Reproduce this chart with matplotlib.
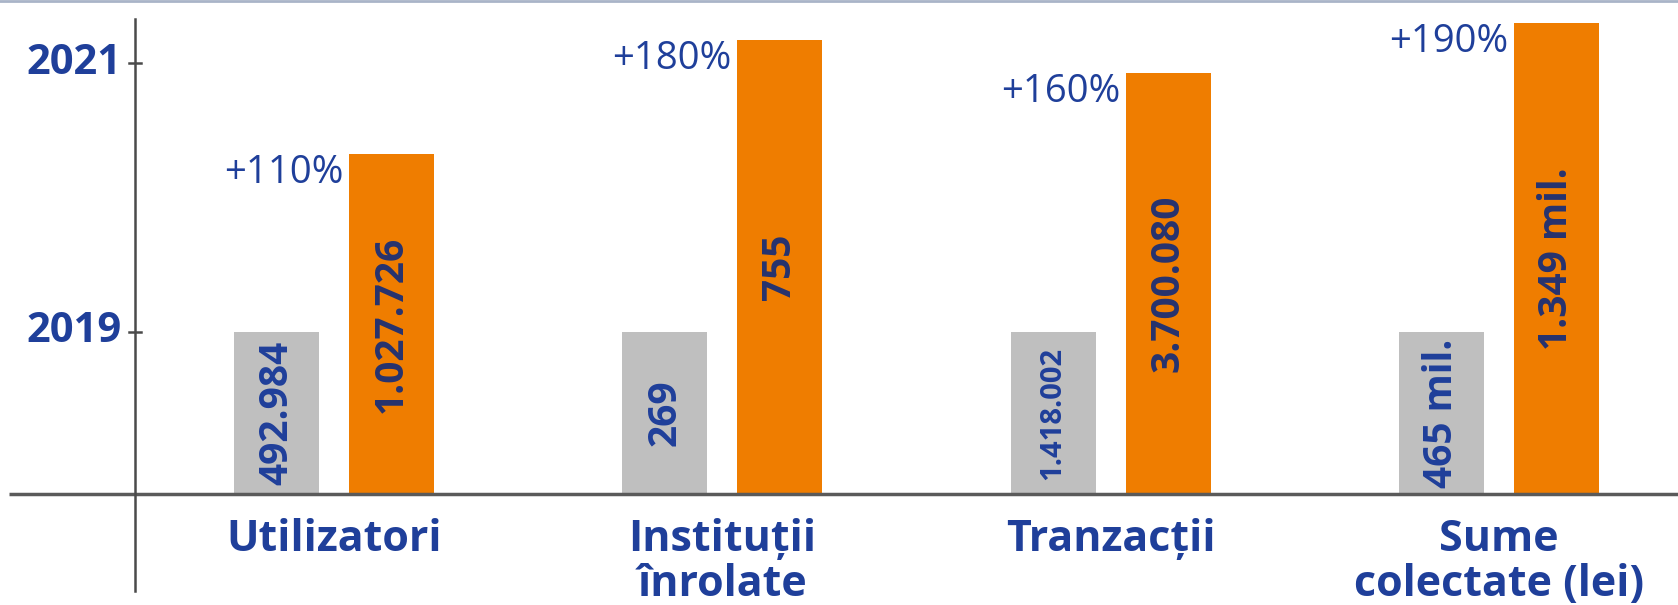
import matplotlib.pyplot as plt
from matplotlib.lines import Line2D

# data (bar heights are indexed, 2019 = 1)
categories = ['Utilizatori', 'Instituții\nînrolate', 'Tranzacții', 'Sume\ncolectate (lei)']
growth_pct = [110, 180, 160, 190]
level_2019 = [1.0, 1.0, 1.0, 1.0]
level_2021 = [2.10, 2.80, 2.60, 2.91]
labels_2019 = ['492.984', '269', '1.418.002', '465 mil.']
labels_2021 = ['1.027.726', '755', '3.700.080', '1.349 mil.']
year_ticks = [1.0, 2.66]
year_labels = ['2019', '2021']

# styles
size_2019 = [28, 28, 21, 28]
GREY = '#bfbfbf'
ORANGE = '#ef7d00'
BLUE = '#1f3f9a'
NAVY = '#26336f'

plt.rcParams['font.family'] = ['Open Sans', 'DejaVu Sans']

fig = plt.figure(figsize=(16.78, 6.05), dpi=100)
ax = fig.add_axes([0, 0, 1, 1])
ax.set_xlim(-0.860, 3.461)
ax.set_ylim(-0.685, 3.049)
ax.axis('off')

w = 0.219
off = 0.148
x = list(range(len(categories)))
x19 = [i - off for i in x]
x21 = [i + off for i in x]

ax.bar(x19, level_2019, width=w, color=GREY, zorder=2)
ax.bar(x21, level_2021, width=w, color=ORANGE, zorder=2)

# axes lines
ax.plot([-0.837, 3.461], [0, 0], color='#5a5a5a', lw=2.5, zorder=3, solid_capstyle='butt')
ax.plot([-0.5125, -0.5125], [-0.599, 2.932], color='#4a4a4a', lw=1.8, zorder=3)
for t, lab in zip(year_ticks, year_labels):
    ax.plot([-0.527, -0.498], [t, t], color='#4a4a4a', lw=1.8, zorder=3)
    ax.text(-0.546, t, lab, ha='right', va='center', fontsize=30,
            fontweight='bold', color=BLUE)

for i in x:
    ax.text(x19[i], level_2019[i] / 2, labels_2019[i], rotation=90,
            ha='center', va='center', fontsize=size_2019[i],
            fontweight='bold', color=BLUE, zorder=4)
    ax.text(x21[i], level_2021[i] / 2, labels_2021[i], rotation=90,
            ha='center', va='center', fontsize=28,
            fontweight='bold', color=NAVY, zorder=4)
    ax.annotate('+{}%'.format(growth_pct[i]), (x21[i] - w / 2, level_2021[i]),
                xytext=(-4, 0), textcoords='offset points',
                ha='right', va='top', fontsize=27.5, color=BLUE)
    ax.text(i, -0.145, categories[i], ha='center', va='top', fontsize=31,
            fontweight='bold', color=BLUE, linespacing=1.08)

# thin frame line at the top
fig.add_artist(Line2D([0, 1], [0.998, 0.998], color='#a9b4c8', lw=2))

fig.savefig('out.png', dpi=100)
